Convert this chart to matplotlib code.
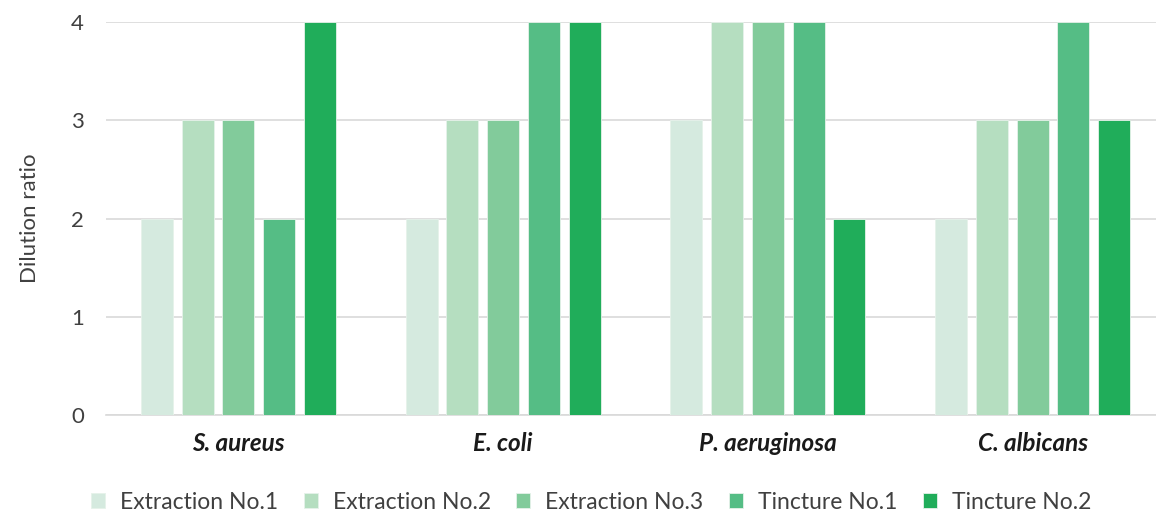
import numpy as np
import matplotlib
matplotlib.use("Agg")
import matplotlib.pyplot as plt

plt.rcParams['font.family'] = ['Lato', 'DejaVu Sans']

organisms = ['S. aureus', 'E. coli', 'P. aeruginosa', 'C. albicans']
series = ['Extraction No.1', 'Extraction No.2', 'Extraction No.3', 'Tincture No.1', 'Tincture No.2']
extraction_1 = [2, 2, 3, 2]
extraction_2 = [3, 3, 4, 3]
extraction_3 = [3, 3, 4, 3]
tincture_1 = [2, 4, 4, 4]
tincture_2 = [4, 4, 2, 3]
colors = ['#d5eadf', '#b5dec0', '#82cb9b', '#55bd85', '#20ad5a']

values = [extraction_1, extraction_2, extraction_3, tincture_1, tincture_2]

fig = plt.figure(figsize=(11.56, 5.14), dpi=100)
ax = fig.add_axes([0.0917, 0.1926, 0.9083, 0.7644])

x = np.arange(len(organisms))
step = 0.154
width = 0.121
for i, (name, vals) in enumerate(zip(series, values)):
    ax.bar(x + (i - 2) * step, vals, width, color=colors[i], label=name,
           edgecolor='#e6f2ea', linewidth=0.6, zorder=3)

ax.set_xlim(-0.5, 3.466)
ax.set_ylim(0, 4)
ax.set_yticks([0, 1, 2, 3, 4])
ax.yaxis.grid(True, color='#d9d9d9', linewidth=1.2, zorder=0)
for s in ['top', 'right', 'left']:
    ax.spines[s].set_visible(False)
ax.spines['bottom'].set_color('#d9d9d9')
ax.spines['bottom'].set_linewidth(1.2)
ax.tick_params(axis='y', length=0, pad=16, labelsize=16, labelcolor='#404040')
ax.tick_params(axis='x', length=0, pad=12)
ax.set_xticks(x)
ax.set_xticklabels(organisms, fontsize=17.5, fontweight='bold', fontstyle='italic', color='#1a1a1a')
ax.set_ylabel('Dilution ratio', fontsize=16, color='#404040', labelpad=22)

ax.legend(loc='center', bbox_to_anchor=(0.462, -0.222), ncol=5, frameon=False,
          fontsize=16.5, handlelength=0.61, handleheight=0.61, handletextpad=0.65,
          columnspacing=1.12, labelcolor='#404040')

fig.savefig('out.png', dpi=100)
